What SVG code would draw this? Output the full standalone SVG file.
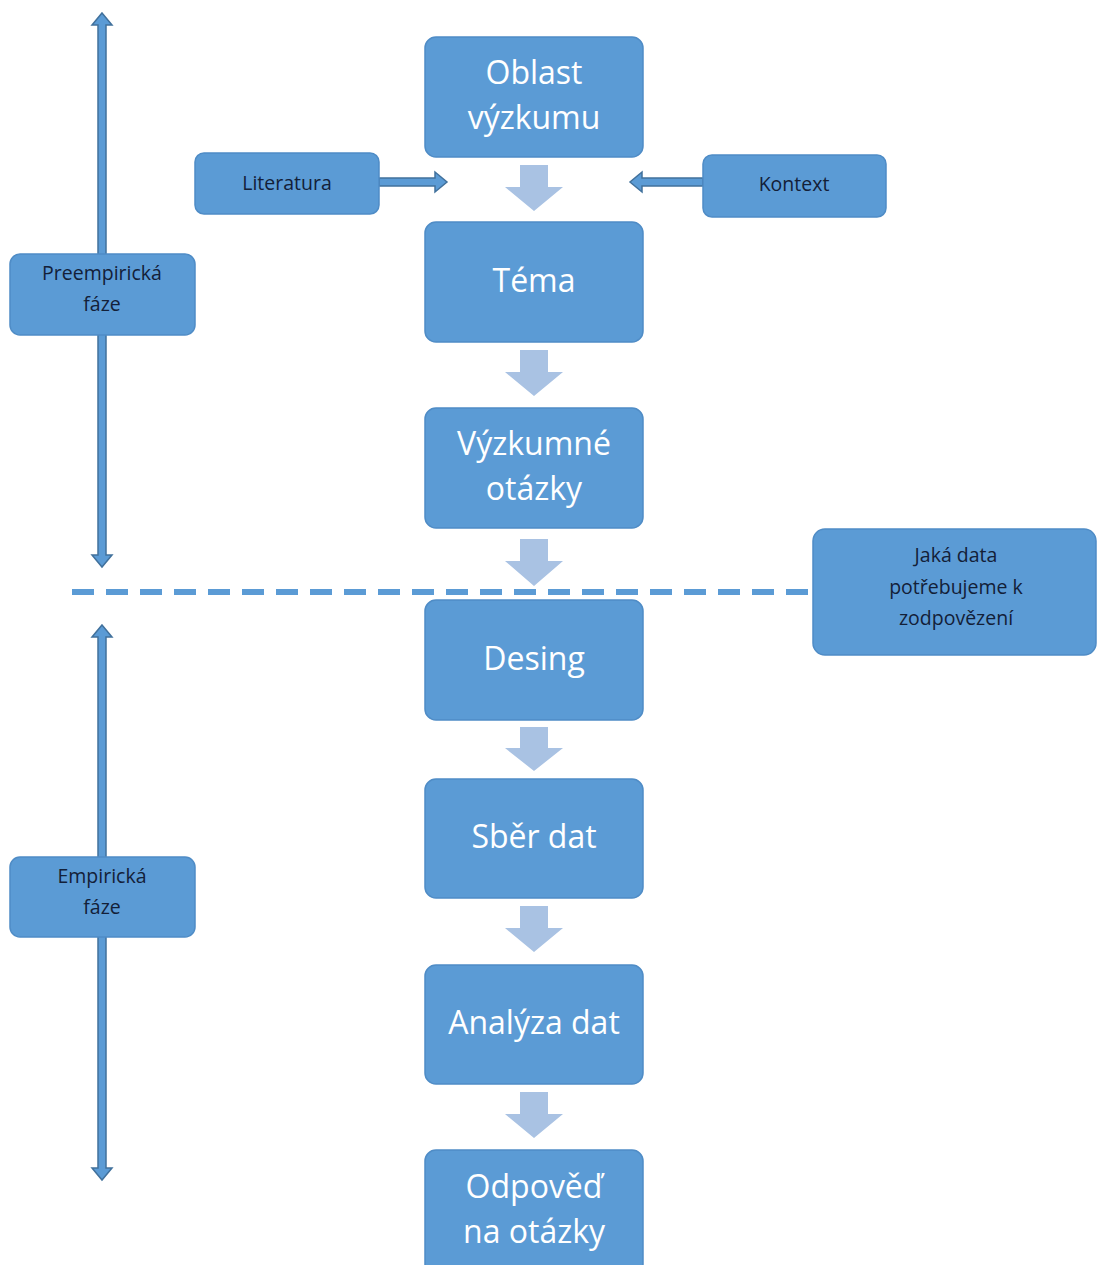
<svg xmlns="http://www.w3.org/2000/svg" width="1097" height="1265" viewBox="0 0 1097 1265">
<style>
.box{fill:#5B9BD5;stroke:#4F8CC6;stroke-width:1.5}
.main{font-family:"Open Sans","Liberation Sans",sans-serif;font-size:32px;fill:#FFFFFF;text-anchor:middle}
.small{font-family:"Open Sans","Liberation Sans",sans-serif;font-size:19.5px;fill:#132038;text-anchor:middle}
.flow{fill:#A9C2E3}
.conn{fill:#5B9BD5;stroke:#41719C;stroke-width:1.5;stroke-linejoin:miter}
.dash{stroke:#5B9BD5;stroke-width:6;stroke-dasharray:22 12;fill:none}
</style>
<rect width="1097" height="1265" fill="#FFFFFF"/>
<g id="connectors">
  <path class="flow" d="M520,165 H548 V187 H563 L534,211 L505,187 H520 Z"/>
  <path class="flow" d="M520,350 H548 V372 H563 L534,396 L505,372 H520 Z"/>
  <path class="flow" d="M520,539 H548 V561 H563 L534,586 L505,561 H520 Z"/>
  <path class="flow" d="M520,727 H548 V748 H563 L534,771 L505,748 H520 Z"/>
  <path class="flow" d="M520,906 H548 V928 H563 L534,952 L505,928 H520 Z"/>
  <path class="flow" d="M520,1092 H548 V1114 H563 L534,1138 L505,1114 H520 Z"/>
  <path class="conn" d="M379,178 H435 V172 L447,182 L435,192 V186 H379 Z"/>
  <path class="conn" d="M703,178 H642 V172 L630,182 L642,192 V186 H703 Z"/>
  <path class="conn" d="M102,13 L112,25 H106 V555 H112 L102,567 L92,555 H98 V25 H92 Z"/>
  <path class="conn" d="M102,625 L112,637 H106 V1168 H112 L102,1180 L92,1168 H98 V637 H92 Z"/>
  <line class="dash" x1="72" y1="592" x2="812" y2="592"/>
</g>
<g id="oblast"><rect class="box" x="425" y="37" width="218" height="120" rx="11"/><text class="main" x="534" y="84">Oblast</text><text class="main" x="534" y="129">výzkumu</text></g>
<g id="tema"><rect class="box" x="425" y="222" width="218" height="120" rx="11"/><text class="main" x="534" y="292">Téma</text></g>
<g id="otazky"><rect class="box" x="425" y="408" width="218" height="120" rx="11"/><text class="main" x="534" y="455">Výzkumné</text><text class="main" x="534" y="500">otázky</text></g>
<g id="desing"><rect class="box" x="425" y="600" width="218" height="120" rx="11"/><text class="main" x="534" y="670">Desing</text></g>
<g id="sber"><rect class="box" x="425" y="779" width="218" height="119" rx="11"/><text class="main" x="534" y="848">Sběr dat</text></g>
<g id="analyza"><rect class="box" x="425" y="965" width="218" height="119" rx="11"/><text class="main" x="534" y="1034">Analýza dat</text></g>
<g id="odpoved"><rect class="box" x="425" y="1150" width="218" height="125" rx="11"/><text class="main" x="534" y="1198">Odpověď</text><text class="main" x="534" y="1243">na otázky</text></g>
<g id="literatura"><rect class="box" x="195" y="153" width="184" height="61" rx="9"/><text class="small" x="287" y="190">Literatura</text></g>
<g id="kontext"><rect class="box" x="703" y="155" width="183" height="62" rx="9"/><text class="small" x="794" y="191">Kontext</text></g>
<g id="preempiricka"><rect class="box" x="10" y="254" width="185" height="81" rx="10"/><text class="small" x="102" y="280">Preempirická</text><text class="small" x="102" y="311">fáze</text></g>
<g id="empiricka"><rect class="box" x="10" y="857" width="185" height="80" rx="10"/><text class="small" x="102" y="883">Empirická</text><text class="small" x="102" y="914">fáze</text></g>
<g id="jaka-data"><rect class="box" x="813" y="529" width="283" height="126" rx="12"/><text class="small" x="956" y="562">Jaká data</text><text class="small" x="956" y="594">potřebujeme k</text><text class="small" x="956" y="625">zodpovězení</text></g>
</svg>
